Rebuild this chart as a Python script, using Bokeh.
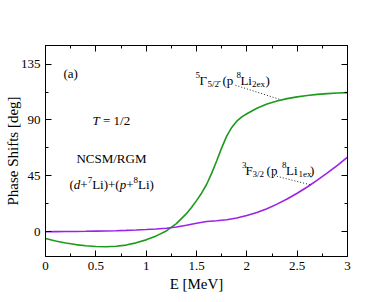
import math
from bokeh.plotting import figure
from bokeh.models import Label, LinearAxis, FixedTicker, Range1d
from bokeh.embed import file_html
from bokeh.resources import INLINE

# ---------------- data ----------------
energy_green = [0.0, 0.1, 0.2, 0.3, 0.4, 0.5, 0.6, 0.7, 0.8, 0.9, 1.0, 1.1, 1.2,
                1.3, 1.4, 1.45, 1.5, 1.55, 1.6, 1.65, 1.7, 1.75, 1.8, 1.85, 1.9,
                1.95, 2.0, 2.1, 2.2, 2.3, 2.4, 2.5, 2.6, 2.7, 2.8, 2.9, 3.0]
phase_5G52 = [-5.5, -7.5, -9.1, -10.4, -11.4, -12.0, -12.2, -11.8, -10.8, -9.0,
              -6.6, -3.4, 0.6, 6.5, 14.5, 19.5, 25.0, 31.0, 38.0, 47.0, 57.0,
              67.5, 77.0, 84.0, 89.0, 92.5, 95.0, 99.5, 102.8, 105.3, 107.2,
              108.6, 109.7, 110.6, 111.2, 111.7, 112.0]

energy_purple = [0.0, 0.1, 0.2, 0.3, 0.4, 0.5, 0.6, 0.7, 0.8, 0.9, 1.0, 1.1, 1.2,
                 1.3, 1.4, 1.5, 1.6, 1.7, 1.8, 1.9, 2.0, 2.1, 2.2, 2.3, 2.4, 2.5,
                 2.6, 2.7, 2.8, 2.9, 3.0]
phase_3F32 = [0.0, 0.05, 0.1, 0.2, 0.3, 0.45, 0.6, 0.8, 1.05, 1.35, 1.7, 2.15,
              2.7, 3.8, 5.2, 6.8, 8.2, 8.8, 9.6, 11.0, 13.0, 15.4, 18.5, 22.2,
              26.3, 31.0, 36.0, 41.5, 47.3, 53.5, 60.0]

# leader lines of the two curve labels
lead_upper_x = [1.887, 2.33]
lead_upper_y = [118.0, 106.5]
lead_lower_x = [2.27, 2.63]
lead_lower_y = [45.2, 37.8]

x_ticks = [0, 0.5, 1, 1.5, 2, 2.5, 3]
x_tick_labels = ["0", "0.5", "1", "1.5", "2", "2.5", "3"]
x_minor = [0.25, 0.75, 1.25, 1.75, 2.25, 2.75]
y_ticks = [0, 45, 90, 135]
y_tick_labels = ["0", "45", "90", "135"]
y_minor = [22.5, 67.5, 112.5]

x_title = "E [MeV]"
y_title = "Phase Shifts [deg]"

GREEN = "#1c9a1c"
PURPLE = "#9b22e8"
FONT = "Liberation Serif"

# ---------------- figure ----------------
p = figure(width=383, height=294, output_backend="svg", toolbar_location=None,
           x_range=Range1d(0, 3), y_range=Range1d(-20, 150),
           min_border_left=45, min_border_right=36, min_border_top=45,
           min_border_bottom=38, x_axis_location=None, y_axis_location=None)
p.grid.visible = False
p.outline_line_color = "black"
p.outline_line_width = 1
p.background_fill_color = "white"
p.border_fill_color = "white"


def make_axis(ticks, minor, labels, show, title=None):
    ax = LinearAxis(ticker=FixedTicker(ticks=ticks, minor_ticks=minor))
    if show:
        ax.major_label_overrides = {t: l for t, l in zip(ticks, labels)}
    else:
        ax.major_label_overrides = {t: "" for t in ticks}
    ax.axis_line_color = "black"
    ax.major_tick_in = 6
    ax.major_tick_out = 0
    ax.minor_tick_in = 3
    ax.minor_tick_out = 0
    ax.major_tick_line_color = "black"
    ax.minor_tick_line_color = "black"
    ax.major_label_text_font = FONT
    ax.major_label_text_color = "black"
    ax.major_label_text_font_size = "13px"
    ax.major_label_standoff = 5
    if title:
        ax.axis_label = title
        ax.axis_label_text_font = FONT
        ax.axis_label_text_font_size = "15px"
        ax.axis_label_text_font_style = "normal"
        ax.axis_label_text_color = "black"
    return ax


bottom = make_axis(x_ticks, x_minor, x_tick_labels, True, x_title)
bottom.axis_label_standoff = 3
left = make_axis(y_ticks, y_minor, y_tick_labels, True, y_title)
left.axis_label_standoff = -3
p.add_layout(bottom, "below")
p.add_layout(make_axis(x_ticks, x_minor, x_tick_labels, False), "above")
p.add_layout(left, "left")
p.add_layout(make_axis(y_ticks, y_minor, y_tick_labels, False), "right")

# curves
p.line(energy_green, phase_5G52, line_color=GREEN, line_width=1.6)
p.line(energy_purple, phase_3F32, line_color=PURPLE, line_width=1.6)

# leader lines
p.line(lead_upper_x, lead_upper_y, line_color="#222222", line_width=1, line_dash="1 2")
p.line(lead_lower_x, lead_lower_y, line_color="#222222", line_width=1, line_dash="1 2")


def put(x, y, text, dx=0, dy=0, size=13, style="normal", align="left",
        baseline="alphabetic"):
    p.add_layout(Label(x=x, y=y, x_offset=dx, y_offset=dy, text=text,
                       text_font=FONT, text_font_size=f"{size}px",
                       text_font_style=style, text_align=align,
                       text_baseline=baseline, text_color="black"))


def rich(x, y, pieces):
    for text, dx, dy, size, style in pieces:
        put(x, y, text, dx=dx, dy=dy, size=size, style=style)


# panel texts
put(0.179, 127.7, "(a)")
rich(0.467, 89.7, [("T", 0, 0, 13, "italic"), ("= 1/2", 10.5, 0, 13, "normal")])
put(0.655, 59.0, "NCSM/RGM", align="center")
rich(0.238, 38.0, [("(", 0, 0, 13, "normal"), ("d", 4.3, 0, 13, "italic"),
                   ("+", 10.8, 0, 13, "normal"), ("7", 18.2, 5, 9, "normal"),
                   ("Li)+(", 22.7, 0, 13, "normal"), ("p", 50.2, 0, 13, "italic"),
                   ("+", 56.7, 0, 13, "normal"), ("8", 64.0, 5, 9, "normal"),
                   ("Li)", 68.5, 0, 13, "normal")])

# curve labels
rich(1.489, 122.0, [("5", 0, 5, 9, "normal"), ("Γ", 4.0, 0, 13, "normal"),
                    ("5/2", 12.0, -4, 9, "normal"), ("-", 22.5, -1, 9, "normal"),
                    ("(p", 27.0, 0, 13, "normal"), ("8", 41.0, 5, 9, "normal"),
                    ("Li", 45.0, 0, 13, "normal"), ("2ex", 56.5, -4, 9, "normal"),
                    (")", 70.0, 0, 13, "normal")])
rich(1.953, 49.3, [("3", 0, 5, 9, "normal"), ("F", 3.5, 0, 13, "normal"),
                   ("3/2", 10.5, -4, 9, "normal"),
                   ("(p", 24.5, 0, 13, "normal"), ("8", 40.0, 5, 9, "normal"),
                   ("Li", 44.0, 0, 13, "normal"), ("1ex", 56.5, -4, 9, "normal"),
                   (")", 68.0, 0, 13, "normal")])

open("out.html", "w").write(file_html(p, INLINE))
